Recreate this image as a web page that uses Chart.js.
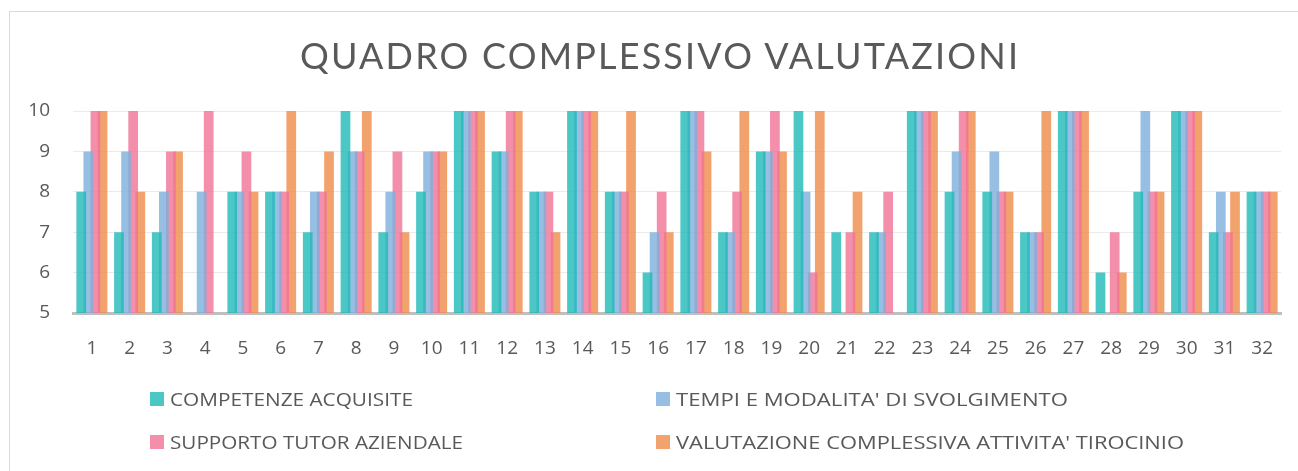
<!DOCTYPE html>
<html><head><meta charset="utf-8">
<script src="https://cdn.jsdelivr.net/npm/chart.js@4.4.1/dist/chart.umd.min.js"></script>
<style>
html,body{margin:0;padding:0;background:#fff;overflow:hidden;}
#wrap{position:relative;width:1298px;height:471px;overflow:hidden;}
#frame{position:absolute;left:9px;top:11px;width:1400px;height:600px;border:1px solid #d9d9d9;box-sizing:border-box;}
#title{position:absolute;left:300px;top:30px;font-family:Lato,"Open Sans",sans-serif;font-weight:400;font-size:36px;line-height:50px;color:#595959;white-space:nowrap;}
#chart{position:absolute;left:0;top:0;}
.leg{position:absolute;height:20px;white-space:nowrap;}
.leg .sw{position:absolute;left:0;top:3px;width:14px;height:14px;}
.leg .tx{position:absolute;left:20px;top:-2px;font-family:"Open Sans",sans-serif;font-size:19px;line-height:24px;color:#595959;transform-origin:0 50%;}
</style>
</head><body>
<div id="wrap">
  <div id="frame"></div>
  <canvas id="chart" width="1298" height="471"></canvas>
  <div id="title">QUADRO COMPLESSIVO VALUTAZIONI</div>
  <div id="legend"></div>
</div>
<script>
const categories = ['1','2','3','4','5','6','7','8','9','10','11','12','13','14','15','16','17','18','19','20','21','22','23','24','25','26','27','28','29','30','31','32'];
const seriesNames = ['COMPETENZE ACQUISITE', "TEMPI E MODALITA' DI SVOLGIMENTO", 'SUPPORTO TUTOR AZIENDALE', "VALUTAZIONE COMPLESSIVA ATTIVITA' TIROCINIO"];
const competenze  = [8,7,7,null,8,8,7,10,7,8,10,9,8,10,8,6,10,7,9,10,7,7,10,8,8,7,10,6,8,10,7,8];
const tempi       = [9,9,8,8,8,8,8,9,8,9,10,9,8,10,8,7,10,7,9,8,null,7,10,9,9,7,10,null,10,10,8,8];
const supporto    = [10,10,9,10,9,8,8,9,9,9,10,10,8,10,8,8,10,8,10,6,7,8,10,10,8,7,10,7,8,10,7,8];
const valutazione = [10,8,9,null,8,10,9,10,7,9,10,10,7,10,10,7,9,10,9,10,8,null,10,10,8,10,10,6,8,10,8,8];
const yTicks = [5,6,7,8,9,10];

const colors = ['rgba(30,185,184,0.8)','rgba(125,175,220,0.8)','rgba(240,115,150,0.8)','rgba(239,139,72,0.8)'];
const legendSwatch = ['#4bc7c6','#97bfe3','#f38fab','#f2a26d'];
const values = [competenze, tempi, supporto, valutazione];

const datasets = values.map((v,i)=>({
  label: seriesNames[i],
  data: v,
  backgroundColor: colors[i],
  borderWidth: 0,
  barPercentage: 1.37,
  categoryPercentage: 0.752
}));

const chart = new Chart(document.getElementById('chart'), {
  type: 'bar',
  data: { labels: categories, datasets },
  options: {
    responsive: false,
    animation: false,
    layout: { padding: { left: 0, right: 17, top: 111, bottom: 98 } },
    plugins: { legend: { display: false }, title: { display: false }, tooltip: { enabled: false } },
    scales: {
      x: {
        grid: { display: false },
        border: { display: true, color: '#bfbfbf', width: 3 },
        ticks: { color: '#595959', font: { family: 'Open Sans', size: 19 }, padding: 16, maxRotation: 0, autoSkip: false },
        afterFit: s => { s.height = 60; }
      },
      y: {
        min: 5, max: 10,
        afterBuildTicks: s => { s.ticks = yTicks.map(v => ({ value: v })); },
        grid: { color: '#ebebeb', lineWidth: 1, drawTicks: false },
        border: { display: false },
        ticks: { color: '#595959', font: { family: 'Open Sans', size: 19 }, padding: 23 },
        afterFit: s => { s.width = 73; }
      }
    }
  }
});

// title: fit letter-spacing to reference width
(function(){
  const t = document.getElementById('title');
  const target = 718;
  const w = t.getBoundingClientRect().width;
  const n = t.textContent.length;
  t.style.letterSpacing = ((target - w) / (n - 1)) + 'px';
})();

// legend built from the chart's datasets
(function(){
  const pos = [[150,389],[656,389],[150,432],[656,432]];
  const widths = [243,392,293,508];
  const leg = document.getElementById('legend');
  chart.data.datasets.forEach((ds,i)=>{
    const d = document.createElement('div');
    d.className = 'leg';
    d.style.left = pos[i][0]+'px';
    d.style.top = pos[i][1]+'px';
    const sw = document.createElement('div'); sw.className='sw'; sw.style.background = legendSwatch[i];
    const tx = document.createElement('div'); tx.className='tx'; tx.textContent = ds.label;
    d.appendChild(sw); d.appendChild(tx); leg.appendChild(d);
    const w = tx.getBoundingClientRect().width;
    tx.style.transform = 'scaleX(' + (widths[i]/w) + ')';
  });
})();
</script>
</body></html>
